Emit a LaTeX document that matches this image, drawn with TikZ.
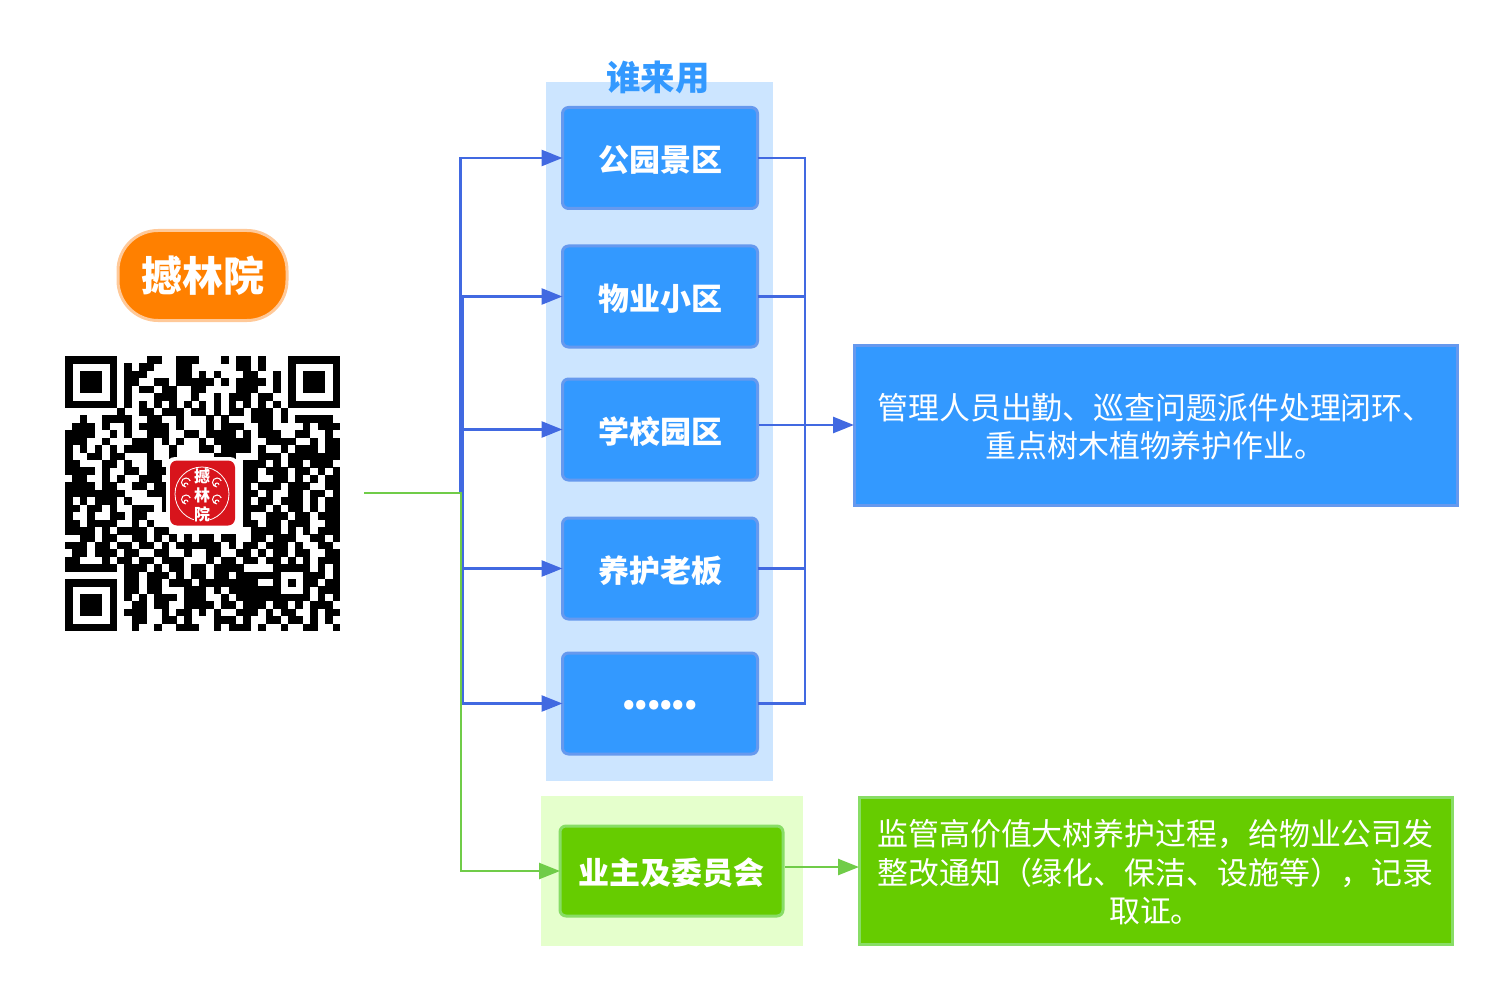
\documentclass[tikz,border=0pt]{standalone}
\usepackage{fontspec}
\setmainfont{Noto Sans CJK SC}
\usetikzlibrary{arrows.meta}

\definecolor{userBlue}{HTML}{3399FF}
\definecolor{userEdge}{HTML}{6699EE}
\definecolor{panelBlue}{HTML}{CCE5FF}
\definecolor{lineBlue}{HTML}{4169E1}
\definecolor{userGreen}{HTML}{66CC00}
\definecolor{greenEdge}{HTML}{88DD66}
\definecolor{panelGreen}{HTML}{E5FFCC}
\definecolor{lineGreen}{HTML}{70CC48}
\definecolor{pillOrange}{HTML}{FF8000}
\definecolor{pillEdge}{HTML}{FFC999}
\definecolor{logoRed}{HTML}{D8141C}

\newcount\qrCol
\def\qrRow#1{\ifx#1\relax\else
  \if#1x\fill (65+\the\qrCol*7.432,356+\qrLine*7.432-7.432) rectangle ++(7.6,7.6);\fi
  \advance\qrCol by 1
  \expandafter\qrRow\fi}
\def\noteLift{\rule{0pt}{30pt}}

\begin{document}
\begin{tikzpicture}[x=1pt,y=-1pt]

\tikzstyle{userBox}=[rectangle,rounded corners=6pt,fill=userBlue,draw=userEdge,line width=3pt,minimum width=195pt,minimum height=101pt,inner sep=0pt,outer sep=0pt,text=white,text height=31pt,text depth=4pt,font=\fontsize{31pt}{36pt}\selectfont\bfseries]
\tikzstyle{ownerBox}=[userBox,fill=userGreen,draw=greenEdge,minimum width=223pt,minimum height=90pt]
\tikzstyle{noteBox}=[rectangle,line width=3pt,inner sep=0pt,outer sep=0pt,text=white,align=center,font=\fontsize{30.9pt}{38.6pt}\selectfont]
\tikzstyle{blueLine}=[draw=lineBlue,line width=2.5pt]
\tikzstyle{greenLine}=[draw=lineGreen,line width=2.5pt]
\tikzstyle{blueArrow}=[blueLine,-{Triangle[length=21pt,width=16pt]}]
\tikzstyle{greenArrow}=[greenLine,-{Triangle[length=21pt,width=16pt]}]

\useasboundingbox (0,0) rectangle (1500,987);

%background panels
\fill[panelBlue] (546,82) rectangle (773,781);
\fill[panelGreen] (541,796) rectangle (803,946);

%title and brand
\node[text=userBlue,font=\fontsize{34.5pt}{38pt}\selectfont\bfseries] (whoLabel) at (658,77) {谁来用};
\node[rectangle,rounded corners=40pt,fill=pillOrange,draw=pillEdge,line width=3pt,minimum width=169pt,minimum height=90pt,inner sep=0pt,text=white,font=\fontsize{41pt}{46pt}\selectfont\bfseries] (brand) at (202.5,275.5) {撼林院};

%qr code
\foreach \qrText [count=\qrLine] in {
xxxxxxxooooxxooxxxoooxoxxoxoooxxxxxxx,
xoooooxoxoxxoooxxooooooxxoxoooxooooox,
xoxxxoxoxxxooooxxoxoxoooxxooxoxoxxxox,
xoxxxoxoxxooxxoxxxxxoxoxxxxoxoxoxxxox,
xoxxxoxoxoxxoxxooxxooooxxxooxoxoxxxox,
xoooooxoxoooxxxooxooxoxxxoxxooxooooox,
xxxxxxxoxoxoxoxoxoxoxoxoxoxoxoxxxxxxx,
oooooooxooxxoxxxoxxoxoxxoxxxoxooooooo,
ooxooxxxxooxxooxoooxoxoooxxxoxoxxxxxo,
oxxxoxooxoxxxxoxoooxoxxxooxxooooxoxxx,
xxxxooxoxooxxxooxxoxxxxoxoxxxooxxooxo,
xxxooxoooxxxoxoxooxoxxxxxooxxxxooxoxx,
xoxoxoxoxxxxooxoooxxoxxxxoxooxoxxxoxx,
xooxxoxxoooxooxoooooxxxoooxxxoxxxxxxx,
xxoooxxoxooxxoooooooooooxxxoxoxxoxxxo,
xxxxoxooxxoxxxooooooooooxxoxxxoxxoxox,
oxxooxoxooxxxoooooooooooxxooxxoxoxoxx,
xxxxoxxooxxoxxooooooooooxoxxxoxxxooxx,
xxxxxxxxoooxxxooooooooooxxoxooxxoxxox,
xoxoxxxoxooooxxoooooooooxoxxoxxxoxoxx,
xxoxxoxooxxxoxxoooooooooxxxoxoxxoxoxx,
xooxooxxoxxoooxoooooooooxooxxxoxxoxxx,
xxoxxxxooxoxooxoooooooooxxoxxoxxxooxx,
xxxxoxoxxxxoxxoooooooooooxxxxoxoxoxxx,
ooxxoxxooxxoxoxoxoxxoxxooxxoxxxooxxox,
xxxoxxoxxoxxoxoxxxxxxoxoxxoxxxoxooxxo,
oxxoxxxoxxooxxooxooxxooxxoxoxxoxxooxx,
xxoooxoxxoxxoxxxoooxoxxoxxoxxoxoxoxxx,
xxxxxxxoxxxoxoxxoxxoxxxxooooxxxxxoxox,
ooooooooxxoxxxoxoxxoxxoxxxxxxoooxxxox,
xxxxxxxoxxoxxoxxxoxxxxxxxxooxoxoxxoxx,
xoooooxoxxoxxoooxxxoxoxxxxxxxoooxoxxx,
xoxxxoxoxoxoxxxoxxxooxoxxxxxxxxxxoxox,
xoxxxoxooxxoxxooxxxxoxxoxxxoxxoxoxxxo,
xoxxxoxoxxxooxoxxoxoxooxxxoxoxxooxoxx,
xoooooxooxxooxxoxoooxxxoxooxxoxxoxoxo,
xxxxxxxooxooxooxxxooxoxxxoxooxooxxoox}{
  \qrCol=0
  \expandafter\qrRow\qrText\relax
}

%qr logo
\node[rectangle,rounded corners=9pt,fill=white,minimum size=73pt,inner sep=0pt] (logoBack) at (202.5,493.5) {};
\node[rectangle,rounded corners=7pt,fill=logoRed,minimum size=65pt,inner sep=0pt] (logoFace) at (202.5,493) {};
\node[circle,draw=white,line width=.8pt,minimum size=54pt,inner sep=0pt] (logoRing) at (202,494) {};
\foreach \scrollX/\scrollY in {188/485,188/502,219/485,219/502}{
  \draw[white,line width=1pt] (\scrollX,\scrollY) arc[start angle=0,end angle=270,radius=2pt] arc[start angle=270,end angle=20,radius=4.5pt];
}
\node[fill=logoRed,inner sep=0pt,text=white,font=\fontsize{16pt}{16pt}\selectfont\bfseries] (logoTopChar) at (202,476.5) {撼};
\node[fill=logoRed,inner sep=0pt,text=white,font=\fontsize{16pt}{16pt}\selectfont\bfseries] (logoMidChar) at (202,495) {林};
\node[fill=logoRed,inner sep=0pt,text=white,font=\fontsize{16pt}{16pt}\selectfont\bfseries] (logoLowChar) at (202,514) {院};

%user nodes
\node[userBox] (park)     at (660,158)   {公园景区};
\node[userBox] (property) at (660,296.5) {物业小区};
\node[userBox] (school)   at (660,429.5) {学校园区};
\node[userBox] (boss)     at (660,568.5) {养护老板};
\node[userBox,text height=11pt,text depth=0pt,font=\fontsize{44pt}{46pt}\selectfont\bfseries\addfontfeature{LetterSpace=-7}] (others) at (660,703.5) {......};
\node[ownerBox] (owner)   at (671.5,871) {业主及委员会};

%note nodes
\node[noteBox,fill=userBlue,draw=userEdge,minimum width=603pt,minimum height=160pt] (blueNote) at (1155.5,425) {\noteLift 管理人员出勤、巡查问题派件处理闭环、\\重点树木植物养护作业。};
\node[noteBox,fill=userGreen,draw=greenEdge,minimum width=593pt,minimum height=147pt] (greenNote) at (1155.5,870.5) {\noteLift 监管高价值大树养护过程，给物业公司发\\整改通知（绿化、保洁、设施等），记录\\取证。};

%junctions
\coordinate (qrOut) at (364,493);
\coordinate (parkTurn) at (460.5,493);
\coordinate (blueTurn) at (462.5,493);
\coordinate (greenTurn) at (461,493);
\coordinate (merge) at (805,425);
\coordinate (schoolOut) at (759,425);
\coordinate (ownerOut) at (785,867);

% left connections
\draw[blueArrow] (parkTurn) |- (park.west);
\draw[blueArrow] (blueTurn) |- (property.west);
\draw[blueArrow] (blueTurn) |- (school.west);
\draw[blueArrow] (blueTurn) |- (boss.west);
\draw[blueArrow] (blueTurn) |- (others.west);
\draw[greenArrow] (qrOut) -- (greenTurn) |- (owner.west);

% right connections
\draw[blueLine] (park.east) -| (merge);
\draw[blueLine] (property.east) -| (merge);
\draw[blueLine] (boss.east) -| (merge);
\draw[blueLine] (others.east) -| (merge);
\draw[blueArrow] (schoolOut) -- (schoolOut -| blueNote.west);
\draw[greenArrow] (ownerOut) -- (ownerOut -| greenNote.west);

\end{tikzpicture}
\end{document}
